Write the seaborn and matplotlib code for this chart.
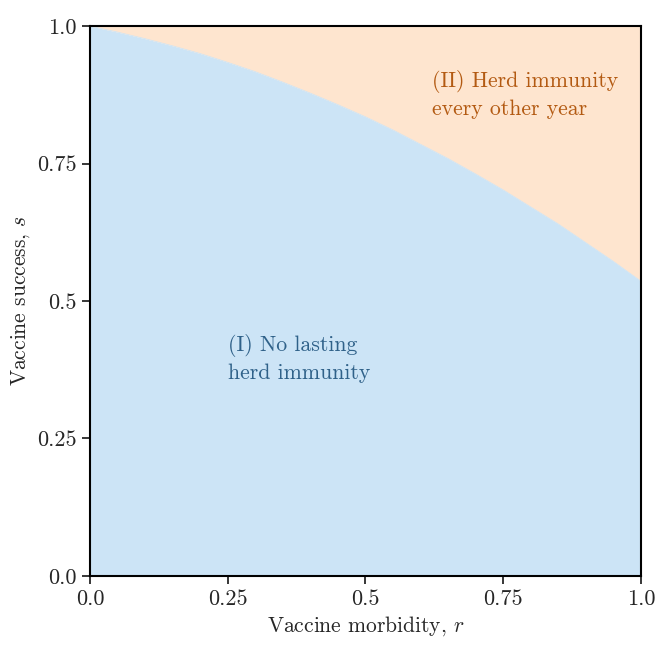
import numpy as np
import pandas as pd
import seaborn as sns
import matplotlib
matplotlib.use("Agg")
import matplotlib.pyplot as plt

# Boundary between the two regimes
morbidity = [0.0, 0.05, 0.1, 0.15, 0.2, 0.25, 0.3, 0.35, 0.4, 0.45, 0.5,
             0.55, 0.6, 0.65, 0.7, 0.75, 0.8, 0.85, 0.9, 0.95, 1.0]
success_boundary = [1.0, 0.989, 0.977, 0.964, 0.950, 0.934, 0.917, 0.898, 0.878, 0.857, 0.835,
                    0.811, 0.785, 0.759, 0.731, 0.702, 0.671, 0.640, 0.606, 0.572, 0.536]

tick_values = [0.0, 0.25, 0.5, 0.75, 1.0]
tick_labels = ["0.0", "0.25", "0.5", "0.75", "1.0"]

blue_fill = "#cce4f6"
orange_fill = "#fee5cf"
blue_text = "#2f6189"
orange_text = "#b35a12"

df = pd.DataFrame({"r": morbidity, "s": success_boundary})

sns.set_style("ticks")
plt.rcParams["font.family"] = "serif"
plt.rcParams["font.serif"] = ["cmr10"]
plt.rcParams["mathtext.fontset"] = "cm"
plt.rcParams["axes.unicode_minus"] = False
plt.rcParams["axes.formatter.use_mathtext"] = True

fig = plt.figure(figsize=(6.65, 6.54), dpi=100)
ax = fig.add_axes([0.1353, 0.1193, 0.8286, 0.8409])

# Region I below the curve, region II above
ax.fill_between(df["r"], 0, df["s"], color=blue_fill, linewidth=0)
ax.fill_between(df["r"], df["s"], 1, color=orange_fill, linewidth=0)
sns.lineplot(data=df, x="r", y="s", ax=ax, color=blue_fill, linewidth=0.5)

ax.text(0.25, 0.395, "(I) No lasting\nherd immunity", color=blue_text,
        fontsize=15.7, ha="left", va="center", linespacing=1.4)
ax.text(0.62, 0.876, "(II) Herd immunity\nevery other year", color=orange_text,
        fontsize=15.7, ha="left", va="center", linespacing=1.4)

ax.set_xlim(0, 1)
ax.set_ylim(0, 1)
ax.set_xticks(tick_values)
ax.set_xticklabels(tick_labels)
ax.set_yticks(tick_values)
ax.set_yticklabels(tick_labels)
ax.tick_params(labelsize=16, width=1.3, length=6)
for sp in ax.spines.values():
    sp.set_linewidth(1.5)
    sp.set_color("black")

ax.set_xlabel("Vaccine morbidity, $r$", fontsize=15.5)
ax.set_ylabel("Vaccine success, $s$", fontsize=15.5)

plt.savefig("out.png", dpi=100)
